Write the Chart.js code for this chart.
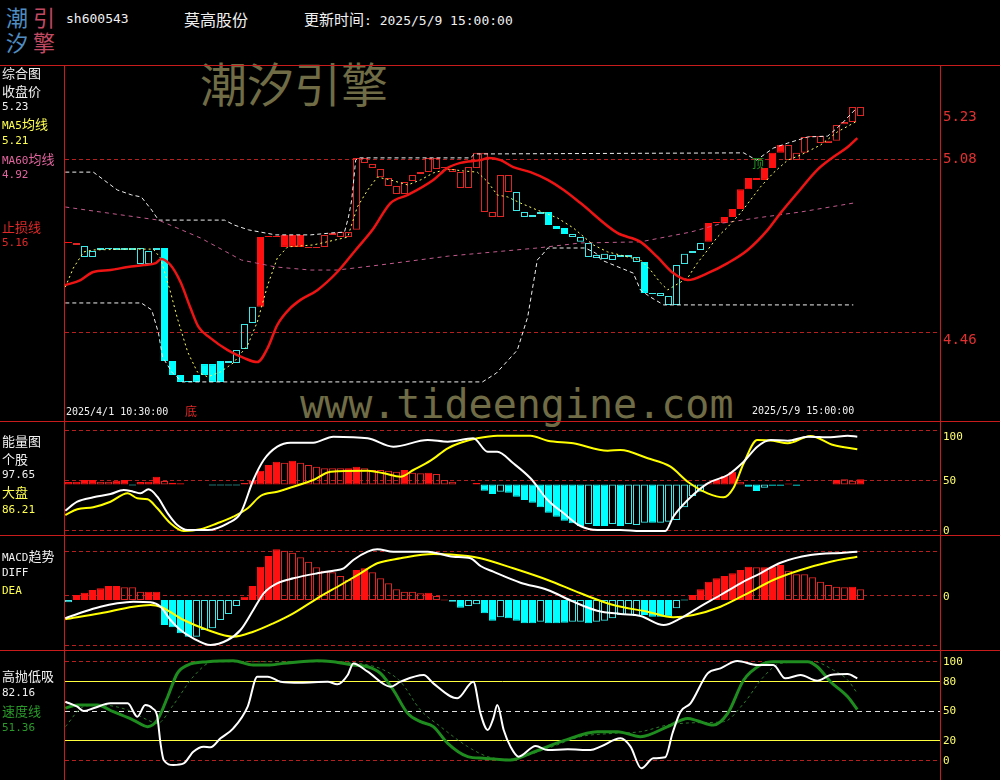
<!DOCTYPE html>
<html>
<head>
<meta charset="utf-8">
<script src="https://cdn.jsdelivr.net/npm/chart.js@4.4.1/dist/chart.umd.min.js"></script>
<style>
  body { margin: 0; background: #000; width: 1000px; height: 780px; overflow: hidden; position: relative;
         font-family: "DejaVu Sans Mono", "Noto Sans CJK SC", monospace; color: #f0f0f0; }
  canvas { position: absolute; left: 0; z-index: 2; }
  .t { position: absolute; white-space: nowrap; line-height: 16px; height: 16px; z-index: 3; }
  .cn { font-family: "Noto Sans CJK SC", sans-serif; font-size: 13px; }
  .num { font-size: 11px; }
  .wm { position: absolute; white-space: nowrap; color: #6f6c46; z-index: 1; }
  .fr { position: absolute; background: #c81c1c; z-index: 4; }
</style>
</head>
<body>

<!-- header -->
<div class="t" style="left:6px;top:4px;line-height:24px;height:24px;font-family:'Noto Sans CJK SC';font-size:22px;color:#4f8cc0">潮</div>
<div class="t" style="left:33px;top:4px;line-height:24px;height:24px;font-family:'Noto Sans CJK SC';font-size:22px;color:#c24a62">引</div>
<div class="t" style="left:6px;top:29px;line-height:24px;height:24px;font-family:'Noto Sans CJK SC';font-size:22px;color:#4f8cc0">汐</div>
<div class="t" style="left:33px;top:29px;line-height:24px;height:24px;font-family:'Noto Sans CJK SC';font-size:22px;color:#c24a62">擎</div>
<div class="t" style="left:66px;top:11px;font-size:13px">sh600543</div>
<div class="t" style="left:184px;top:11px;font-family:'Noto Sans CJK SC';font-size:16px">莫高股份</div>
<div class="t" style="left:304px;top:11px"><span style="font-family:'Noto Sans CJK SC';font-size:15px">更新时间</span><span style="font-size:13px">: 2025/5/9 15:00:00</span></div>

<!-- watermarks -->
<div class="wm" style="left:200px;top:58px;line-height:47px;font-family:'Noto Sans CJK SC';font-size:47px">潮汐引擎</div>
<div class="wm" style="left:300px;top:384px;line-height:40px;font-family:'DejaVu Sans Mono';font-size:40px">www.tideengine.com</div>

<!-- left labels: main panel -->
<div class="t cn" style="left:2px;top:65px">综合图</div>
<div class="t cn" style="left:2px;top:83px">收盘价</div>
<div class="t num" style="left:2px;top:99px">5.23</div>
<div class="t" style="left:2px;top:116px;color:#ffff50"><span class="num">MA5</span><span class="cn">均线</span></div>
<div class="t num" style="left:2px;top:133px;color:#ffff50">5.21</div>
<div class="t" style="left:2px;top:151px;color:#e0649e"><span class="num">MA60</span><span class="cn">均线</span></div>
<div class="t num" style="left:2px;top:167px;color:#e0649e">4.92</div>
<div class="t cn" style="left:2px;top:219px;color:#e02828">止损线</div>
<div class="t num" style="left:2px;top:235px;color:#e02828">5.16</div>
<div class="t" style="left:66px;top:404px;font-size:10px">2025/4/1 10:30:00</div>
<div class="t cn" style="left:185px;top:403px;font-size:12px;color:#e02828">底</div>
<div class="t" style="left:752px;top:403px;font-size:10px">2025/5/9 15:00:00</div>
<div class="t cn" style="left:752px;top:155px;font-size:12px;color:#1f9a1f">顶</div>

<!-- left labels: energy -->
<div class="t cn" style="left:2px;top:433px">能量图</div>
<div class="t cn" style="left:2px;top:451px">个股</div>
<div class="t num" style="left:2px;top:467px">97.65</div>
<div class="t cn" style="left:2px;top:484px;color:#ffff50">大盘</div>
<div class="t num" style="left:2px;top:502px;color:#ffff50">86.21</div>

<!-- left labels: macd -->
<div class="t" style="left:2px;top:548px"><span class="num">MACD</span><span class="cn">趋势</span></div>
<div class="t num" style="left:2px;top:565px">DIFF</div>
<div class="t num" style="left:2px;top:583px;color:#ffff50">DEA</div>

<!-- left labels: high/low -->
<div class="t cn" style="left:2px;top:668px">高抛低吸</div>
<div class="t num" style="left:2px;top:685px">82.16</div>
<div class="t cn" style="left:2px;top:703px;color:#2a9a2a">速度线</div>
<div class="t num" style="left:2px;top:720px;color:#2a9a2a">51.36</div>

<canvas id="cMain" width="1000" height="356" style="top:65px"></canvas>
<canvas id="cEnergy" width="1000" height="114" style="top:421px"></canvas>
<canvas id="cMacd" width="1000" height="115" style="top:535px"></canvas>
<canvas id="cSwing" width="1000" height="130" style="top:650px"></canvas>

<!-- frame -->
<div class="fr" style="left:0;top:65px;width:1000px;height:1px"></div>
<div class="fr" style="left:0;top:421px;width:1000px;height:1px"></div>
<div class="fr" style="left:0;top:535px;width:1000px;height:1px"></div>
<div class="fr" style="left:0;top:650px;width:1000px;height:1px"></div>
<div class="fr" style="left:64px;top:65px;width:1px;height:715px"></div>
<div class="fr" style="left:940px;top:65px;width:1px;height:715px"></div>

<script>
// ---------- data: 100 hourly bars, 2025/4/1 10:30 .. 2025/5/9 15:00 ----------
// candle bodies (price), kind: R red filled, r red hollow, C cyan filled, c cyan hollow
const candleHigh = [
  4.779, 4.779, 4.768, 4.750, 4.761, 4.761, 4.761, 4.761, 4.761, 4.761,
  4.750, 4.761, 4.761, 4.356, 4.306, 4.281, 4.306, 4.345, 4.345, 4.356,
  4.356, 4.395, 4.489, 4.550, 4.800, 4.800, 4.800, 4.808, 4.808, 4.808,
  4.761, 4.761, 4.808, 4.815, 4.818, 4.818, 5.084, 5.084, 5.062, 5.044,
  5.012, 4.983, 4.998, 5.023, 5.033, 5.084, 5.084, 5.048, 5.044, 5.033,
  5.051, 5.102, 5.102, 4.890, 5.023, 5.023, 4.962, 4.890, 4.879, 4.890,
  4.890, 4.840, 4.833, 4.811, 4.800, 4.779, 4.736, 4.740, 4.736, 4.736,
  4.736, 4.729, 4.711, 4.600, 4.600, 4.589, 4.700, 4.740, 4.750, 4.779,
  4.851, 4.851, 4.872, 4.901, 4.972, 5.012, 5.012, 5.048, 5.102, 5.130,
  5.130, 5.102, 5.159, 5.159, 5.162, 5.145, 5.202, 5.213, 5.266, 5.266
];
const candleLow = [
  4.779, 4.772, 4.729, 4.729, 4.754, 4.757, 4.754, 4.754, 4.754, 4.704,
  4.704, 4.754, 4.356, 4.306, 4.281, 4.281, 4.281, 4.306, 4.281, 4.281,
  4.349, 4.349, 4.399, 4.492, 4.550, 4.800, 4.800, 4.765, 4.765, 4.765,
  4.761, 4.761, 4.765, 4.808, 4.800, 4.800, 4.826, 5.066, 5.048, 5.015,
  4.983, 4.955, 4.955, 5.001, 5.026, 5.033, 5.044, 5.048, 5.033, 4.976,
  4.976, 5.048, 4.890, 4.872, 4.872, 4.962, 4.894, 4.872, 4.872, 4.883,
  4.843, 4.829, 4.811, 4.800, 4.783, 4.729, 4.725, 4.722, 4.718, 4.729,
  4.729, 4.711, 4.600, 4.596, 4.589, 4.557, 4.557, 4.704, 4.743, 4.754,
  4.783, 4.851, 4.851, 4.872, 4.901, 4.972, 5.005, 5.005, 5.048, 5.102,
  5.076, 5.076, 5.102, 5.159, 5.137, 5.137, 5.145, 5.205, 5.213, 5.234
];
const candleKind = (
  "Rrcccccccc" + "ccCCCCCCCC" + "ccccRRRRRR" + "rrrrrrrrrr" + "rrrrrrrrrr" +
  "rrrrrrcccc" + "CCCccccccc" + "ccCccccccc" + "RRRRRRRRRR" + "rrrrrrrrrr"
).split("");

// main panel lines: [bar position, price]
const trendLine = [[-0.4,4.628],[1.5,4.646],[3.1,4.675],[5.25,4.682],[7.4,4.693],[9.4,4.700],[10.9,4.707],[11.6,4.722],
  [12.75,4.700],[14,4.639],[15.25,4.546],[16.25,4.478],[17.75,4.438],[19.9,4.395],[21.9,4.367],[23.6,4.352],[24.9,4.403],
  [26.1,4.485],[27.75,4.546],[29,4.575],[31.1,4.610],[33.6,4.675],[35.9,4.754],[38,4.826],[40.25,4.922],[42.4,4.951],
  [45.6,5.005],[47.4,5.048],[49,5.066],[51.5,5.076],[52.5,5.084],[54,5.076],[55.6,5.051],[57.75,5.033],[59.9,5.005],
  [61.9,4.969],[64,4.922],[68.6,4.815],[71.5,4.783],[73.6,4.729],[75.6,4.671],[77.4,4.646],[79.9,4.671],[82.4,4.707],
  [84.9,4.754],[87.4,4.826],[89,4.886],[91.1,4.958],[93.6,5.041],[95.6,5.087],[97.4,5.123],[98.6,5.155]];
const ma5Line = [[-0.4,4.621],[0.6,4.689],[1.9,4.747],[3.1,4.754],[7.4,4.757],[10.6,4.757],[11.5,4.725],[12.75,4.603],
  [13.6,4.510],[14.9,4.388],[16.1,4.317],[17.4,4.299],[19,4.317],[20.6,4.349],[22.4,4.413],[23.6,4.496],[24.9,4.628],
  [26.1,4.725],[27.4,4.765],[30.6,4.772],[34.9,4.800],[36.1,4.908],[37.4,4.969],[38.6,5.015],[40.25,5.005],[42.4,4.987],
  [44,5.005],[45.6,5.030],[47.4,5.044],[49.4,5.037],[51.1,5.033],[52.4,4.998],[53.6,4.951],[54.9,4.944],[56.5,4.922],
  [58.6,4.897],[61.1,4.869],[63.1,4.833],[65.6,4.772],[67.4,4.747],[69.9,4.729],[71.5,4.718],[72.75,4.682],[74,4.636],
  [74.9,4.611],[75.9,4.628],[77.4,4.654],[78.6,4.707],[79.9,4.754],[81.1,4.800],[82.4,4.836],[84,4.886],[85.25,4.933],
  [86.5,4.980],[88.1,5.030],[89.9,5.076],[91.5,5.094],[94,5.130],[96.1,5.177],[98.4,5.213]];
const ma60Line = [[-0.4,4.908],[4,4.890],[11.25,4.861],[16.5,4.797],[21.6,4.718],[25.9,4.693],[30.25,4.682],[33.6,4.682],
  [38.9,4.700],[47.5,4.732],[58.6,4.761],[64,4.779],[71.5,4.783],[77.75,4.818],[81.9,4.851],[86.1,4.869],[91.5,4.890],[98.1,4.922]];
const upperBand = [[-0.4,5.033],[3.1,5.033],[6.1,4.969],[7.9,4.951],[9.1,4.944],[10.4,4.897],[11.25,4.861],[19.5,4.861],
  [20.75,4.843],[22.5,4.826],[25.9,4.808],[30.25,4.808],[32.9,4.815],[34.5,4.818],[35,4.872],[35.4,4.933],[35.9,5.076],
  [36.25,5.084],[50.25,5.084],[50.75,5.098],[84.4,5.102],[85.5,5.084],[86,5.076],[88.1,5.119],[89.9,5.137],[92.4,5.159],
  [94.9,5.162],[96.5,5.202],[98.4,5.259]];
const lowerBand = [[-0.4,4.564],[9.1,4.564],[10.4,4.539],[11.25,4.456],[11.75,4.370],[13,4.313],[14.25,4.281],[51.75,4.281],
  [53.5,4.313],[56.1,4.395],[57.4,4.514],[58.6,4.718],[59.4,4.743],[59.9,4.761],[64.6,4.761],[65.9,4.743],[66.6,4.718],
  [70.6,4.671],[71.5,4.610],[72.75,4.585],[74.4,4.557],[98.1,4.557]];
const mainGrid = [5.08, 4.46];
const mainTicks = ["5.23", "5.08", "4.46"];

// energy panel (0..100), bars grow from the base level
const energyBase = 45.5;
const energyBar = [
  48, 48.3, 50, 50, 48.3, 48.3, 49.3, 50, 44.5, 48,
  48.3, 53.3, 49, 47.3, 46.7, null, null, null, 44.5, 44.5,
  44.5, 44.5, 47, 49, 59.3, 65, 68.3, 67.3, 69.3, 67.3,
  65, 63.3, 61.7, 61.7, 61.7, 61.7, 63.3, 61.7, 60, 60,
  59.3, 58.3, 60, 57.3, 56.7, 57.3, 56, 50, 48.3, null,
  null, 47, 39.3, 36, 38.3, 37.3, 33.3, 30, 27.3, 22.7,
  17.3, 13.3, 9.3, 6.7, 4, 6, 4, 4, 6, 4,
  6, 5, 7.3, 7.3, 7.3, 8.3, 10, 22.7, 34, 38.3,
  46.7, 50, 54, 58.3, 48.3, 43.3, 39, 42.3, 44.3, 44.3,
  46.5, 44.3, null, null, null, null, 50, 50.7, 49.3, 50.7
];
const energyKind = (
  "RRRRrrRRcR" + "RRrRR---cc" + "ccrRRRRrRr" + "rrrrrRRrrr" + "rrRrrRrrr-" +
  "-RCCcCCCCC" + "CCCCCcCCcC" + "cccCcccccc" + "RRRRrCCcCC" + "RC----RrrR"
).split("");
const stockLine = [[-0.4,19.3],[1.1,28.3],[3.1,32.7],[5.25,36],[6.9,40],[8.1,38.3],[9,36.7],[10,40.7],[11.1,33.3],
  [12.4,16.7],[13.6,5],[14.9,0],[17.4,0],[19.9,6.7],[21.5,16.7],[23.1,50],[24.4,70],[26.1,83.3],[27.75,87.3],[30.6,87.3],
  [33.1,93.3],[37.4,91.7],[40.6,83.3],[44.9,90],[47.4,88.3],[50.6,91.7],[52.4,78.3],[53.6,78.3],[55.6,66.7],[57.75,51.7],
  [59.9,30],[61.9,16.7],[64,4],[66.1,0],[69,0],[71.5,-1],[74.6,-1],[75.6,13.3],[77.4,30],[79.9,46.7],[82.4,55],
  [84.4,68.3],[86.1,83.3],[87.75,90],[89.9,89.3],[92.4,93.3],[95.25,92.7],[97.4,94.3],[98.6,93.3]];
const marketLine = [[-0.4,15],[1.1,20.7],[3.1,22.7],[5.25,28.3],[7.4,36.7],[8.6,31.7],[9.9,30.7],[11.1,21.7],[12.75,6.7],
  [14.4,-1],[16.5,0.7],[18.6,6.7],[20.6,13.3],[22.4,21.7],[24,34],[26.1,38.3],[28.1,43.3],[30.6,50],[32.75,58.3],
  [37.4,59.3],[39.4,56.7],[41.5,53.3],[43.1,60],[45.25,69.3],[47.4,81.7],[49,87.3],[51.1,91.7],[53.6,94.3],[57.75,94.3],
  [59.9,89.3],[63.1,86.7],[67.4,79.3],[69,80],[72.4,71.7],[75.25,63.3],[77.4,48.3],[79.9,36.7],[81.9,32.7],[83.1,41.7],
  [84.4,66.7],[86.1,90],[88.1,89.3],[89.9,86.7],[92.75,94],[95.6,85],[98.6,80.7]];
const energyGrid = [100, 50, 0];
const energyTicks = ["100", "50", "0"];

// MACD panel
const macdBar = [
  -0.0023, 0.0050, 0.0073, 0.0100, 0.0117, 0.0140, 0.0140, 0.0127, 0.0127, 0.0083,
  0.0083, 0.0083, -0.0250, -0.0273, -0.0333, -0.0367, -0.0367, -0.0300, -0.0283, -0.0200,
  -0.0140, -0.0060, 0.0033, 0.0140, 0.0333, 0.0440, 0.0507, 0.0493, 0.0473, 0.0427,
  0.0383, 0.0327, 0.0293, 0.0277, 0.0240, 0.0200, 0.0300, 0.0317, 0.0277, 0.0217,
  0.0167, 0.0107, 0.0083, 0.0083, 0.0067, 0.0073, 0.0040, 0.0007, -0.0017, -0.0077,
  -0.0060, -0.0043, -0.0133, -0.0207, -0.0173, -0.0183, -0.0207, -0.0233, -0.0233, -0.0217,
  -0.0233, -0.0233, -0.0227, -0.0217, -0.0217, -0.0233, -0.0217, -0.0207, -0.0183, -0.0150,
  -0.0150, -0.0160, -0.0150, -0.0167, -0.0167, -0.0167, -0.0083, -0.0007, 0.0050, 0.0107,
  0.0183, 0.0217, 0.0240, 0.0267, 0.0300, 0.0333, 0.0327, 0.0327, 0.0333, 0.0350,
  0.0293, 0.0257, 0.0257, 0.0227, 0.0183, 0.0150, 0.0133, 0.0127, 0.0133, 0.0107
];
const macdKind = (
  "cRRRRRRrrr" + "RRCCCCcccc" + "ccRRRRRrrr" + "rrrrrrRRrr" + "rrrrrRrrcC" +
  "ccCCcCCCCc" + "CCCccCcccc" + "ccCCCCccRR" + "RRRRRRrRRR" + "rrrrrrrrRr"
).split("");
const diffLine = [[-0.4,-0.0183],[1.9,-0.0117],[4,-0.0067],[6.1,-0.0033],[8.1,-0.0017],[10.25,-0.0023],[11.5,-0.0067],
  [12.75,-0.02],[14,-0.03],[15.6,-0.0383],[17.75,-0.045],[19.9,-0.04],[21.5,-0.03],[23.1,-0.01],[24.4,0.0067],[26.1,0.0167],
  [28.1,0.0217],[31.1,0.0267],[33.1,0.0293],[34.4,0.0317],[35.6,0.04],[37.4,0.0483],[38.6,0.0507],[40.6,0.0483],
  [44.9,0.0483],[48.1,0.0433],[50.25,0.0417],[51.5,0.034],[53.1,0.0283],[56.5,0.0173],[59.9,0.01],[63.1,-0.0017],
  [66.1,-0.0107],[69,-0.014],[71.5,-0.016],[74.4,-0.025],[76.5,-0.0183],[78.6,-0.0083],[81.5,0.005],[84,0.0167],
  [86.5,0.0267],[89,0.0373],[92.75,0.045],[96.9,0.0473],[98.6,0.0483]];
const deaLine = [[-0.4,-0.0193],[4,-0.0133],[8.1,-0.0067],[10.25,-0.005],[11.5,-0.0067],[14.4,-0.02],[17.4,-0.03],
  [20.6,-0.0367],[23.1,-0.0317],[25.6,-0.0233],[28.1,-0.0133],[31.1,0.0017],[34,0.015],[36.5,0.0267],[38.6,0.0367],
  [41.5,0.0417],[45.6,0.046],[49.9,0.044],[51.5,0.0417],[55.6,0.0317],[59.9,0.02],[64,0.0067],[68.1,-0.005],
  [72.4,-0.0117],[75.6,-0.0173],[78.1,-0.015],[81.5,-0.0067],[84.9,0.0067],[88.1,0.02],[91.5,0.03],[95.25,0.0383],[98.6,0.0433]];
const macdGrid = [0.049, 0.005, -0.045];

// high/low swing panel (0..100)
const swingLine = [[-0.4,58.9],[1.1,53.8],[1.9,49.5],[3.1,52.2],[5.25,57.3],[7.4,57.3],[8.6,43.8],[9.6,55.6],[10.5,52.2],
  [11.1,43.8],[11.5,16.8],[11.9,0],[13.1,-5],[14.4,-3.4],[15.6,8.4],[16.9,13.5],[17.75,12.8],[19,21.9],[20.6,32],
  [22.4,53.9],[23.6,84.2],[24.9,84.2],[26.5,79.1],[29,78.1],[32.4,79.1],[33.6,76.4],[34.9,85.8],[35.6,97.6],[37.4,89.2],
  [40.25,74],[41.5,79.1],[44.4,85.8],[45.6,77.4],[48.6,62.3],[50.6,79.1],[51.5,47],[52.4,30.3],[53.1,42],[53.6,55.6],
  [54.4,30.3],[55.25,13.5],[56.25,3.4],[58.4,14.1],[59.9,10.1],[62.4,10.8],[65.25,10.1],[66.5,13.5],[69,21.9],[70.25,13.5],
  [71.6,-8.4],[73.1,1.7],[74.6,2.7],[75.5,27],[76.5,48.8],[77.75,57.2],[79.9,87.5],[81.5,92.6],[83.6,100],[86.1,96],
  [88.1,96],[89.6,82.5],[91.5,85.8],[93.6,80.1],[95.25,85.8],[97.4,86.9],[98.6,82.5]];
const speedLine = [[-0.4,52.2],[1.1,55.6],[3.6,55.6],[5.6,48.8],[8.1,40.4],[9.9,33.7],[11.1,40.4],[12.4,63.9],[13.6,87.5],
  [14.9,95.9],[17.4,99.3],[20.6,100.3],[23.1,95.9],[24.9,95.9],[26.9,97.6],[31.1,100.3],[33.1,99.3],[35.6,95.9],[37.4,94.2],
  [39,87.5],[40.6,70.7],[42.4,47.1],[44,38.7],[45.6,33.7],[47.4,16.8],[49.9,3.4],[51.9,1.7],[53.5,0.7],[55.25,0],
  [57.75,6.7],[61.9,19.5],[66.1,28.6],[68.6,28.6],[71.5,23.6],[74.9,33.7],[77.4,42],[78.6,39.7],[80.6,35.3],[82.4,47.1],
  [84.4,80.8],[86.5,96],[88.1,99.3],[92.4,99.3],[93.6,94.2],[95.25,79.1],[97.4,63.9],[98.6,51]];
const speedSlow = [[-0.4,33.7],[1.9,53.9],[4,55.6],[7.4,50.5],[9.9,40.4],[11.1,37],[13.1,55.6],[15.6,84.2],[18.1,99.3],
  [20.6,99.3],[33.1,99.3],[37.4,96],[39.4,90.9],[41.5,79.1],[44,50.5],[46.5,33.7],[49.9,13.5],[52.4,3.4],[54.9,0.7],
  [59.9,11.8],[64,23.6],[68.1,26.9],[71.5,28.6],[74.9,35.3],[78.6,37.7],[81.9,38.7],[84.4,57.2],[86.9,84.2],[89,97.6],
  [93.1,99.3],[95.6,90.9],[97.4,80.8],[98.6,67.3]];
const swingTicks = [100, 80, 50, 20, 0];

// ---------- drawing ----------
const X_MIN = -0.4375, X_MAX = 108.9375;   // 8px per bar, first bar at x=68.5
const KIND_STYLE = {
  R: { fill: "#ff1010", edge: "#ff1010" },
  r: { fill: "rgba(0,0,0,0)", edge: "#e02424" },
  C: { fill: "#00ffff", edge: "#00ffff" },
  c: { fill: "rgba(0,0,0,0)", edge: "#3ce8e8" },
};
const GRID_RED = "#b42020";

function line(points, color, width, dash, smooth) {
  return {
    type: "line", data: points.map(([x, y]) => ({ x, y })),
    borderColor: color, borderWidth: width, borderDash: dash || [],
    pointRadius: 0, fill: false, tension: 0,
    cubicInterpolationMode: smooth ? "monotone" : "default", order: 1,
  };
}

// one bar dataset per kind, all overlaid on the same x positions
function barSets(points) {
  return Object.keys(KIND_STYLE).map(k => ({
    type: "bar", data: points.filter(p => p.k === k),
    backgroundColor: KIND_STYLE[k].fill, borderColor: KIND_STYLE[k].edge,
    hoverBackgroundColor: KIND_STYLE[k].fill, hoverBorderColor: KIND_STYLE[k].edge,
    borderWidth: 1, borderSkipped: false, barThickness: 7, minBarLength: 1,
    inflateAmount: 0, grouped: false, order: 10,
  }));
}

// horizontal level lines + right side labels
function deco(levels, labels, font, color) {
  return {
    id: "deco",
    beforeDatasetsDraw(chart) {
      const { ctx, chartArea: a, scales: { y } } = chart;
      ctx.save();
      levels.forEach(l => {
        const py = Math.round(y.getPixelForValue(l.v)) + 0.5;
        ctx.strokeStyle = l.c; ctx.lineWidth = 1; ctx.setLineDash(l.d || []);
        ctx.beginPath(); ctx.moveTo(a.left, py); ctx.lineTo(a.right, py); ctx.stroke();
      });
      ctx.restore();
    },
    afterDraw(chart) {
      const { ctx, chartArea: a, scales: { y } } = chart;
      ctx.save();
      ctx.font = font; ctx.fillStyle = color;
      ctx.textBaseline = "middle"; ctx.textAlign = "left";
      labels.forEach(l => ctx.fillText(l.t, a.right + 3, y.getPixelForValue(l.v) + (l.dy || 0)));
      ctx.restore();
    },
  };
}

function makeChart(id, yMin, yMax, datasets, plugin) {
  return new Chart(document.getElementById(id), {
    type: "bar",
    data: { datasets },
    options: {
      responsive: false, animation: false, events: [],
      layout: { padding: { left: 65, right: 60, top: 0, bottom: 0 } },
      plugins: { legend: { display: false }, tooltip: { enabled: false }, colors: { enabled: false } },
      scales: {
        x: { type: "linear", min: X_MIN, max: X_MAX, offset: false, display: false },
        y: { type: "linear", min: yMin, max: yMax, display: false },
      },
    },
    plugins: [plugin],
  });
}

// main panel
const candlePts = candleHigh.map((h, i) => ({ x: i, y: [candleLow[i], h], k: candleKind[i] }));
makeChart("cMain", 4.14093, 5.41692, [
  line(trendLine, "#ee1414", 2.5, null, true),
  line(ma5Line, "#ffff60", 1, [2, 3], false),
  line(ma60Line, "#c25a8c", 1, [4, 4], false),
  line(upperBand, "#f0f0f0", 1, [4, 3], false),
  line(lowerBand, "#f0f0f0", 1, [4, 3], false),
  ...barSets(candlePts),
], deco(
  mainGrid.map(v => ({ v, c: GRID_RED, d: [4, 3] })),
  mainTicks.map(t => ({ t, v: parseFloat(t), dy: t === "4.46" ? 8 : 0 })),
  "14px 'DejaVu Sans Mono'", "#e03030"
));

// energy panel
const energyPts = [];
energyBar.forEach((v, i) => { if (v !== null) energyPts.push({ x: i, y: [energyBase, v], k: energyKind[i] }); });
makeChart("cEnergy", -5, 109, [
  line(stockLine, "#ffffff", 2, null, true),
  line(marketLine, "#ffff00", 2, null, true),
  ...barSets(energyPts),
], deco(
  energyGrid.map(v => ({ v, c: GRID_RED, d: [4, 3] })),
  energyTicks.map(t => ({ t, v: parseFloat(t), dy: t === "100" ? 7 : 1 })),
  "11px 'DejaVu Sans Mono'", "#ffff70"
));

// MACD panel
const macdPts = macdBar.map((v, i) => ({ x: i, y: [0, v], k: macdKind[i] }));
makeChart("cMacd", -0.050, 0.065, [
  line(diffLine, "#ffffff", 2, null, true),
  line(deaLine, "#ffff00", 2, null, true),
  ...barSets(macdPts),
], deco(
  macdGrid.map(v => ({ v, c: GRID_RED, d: [4, 3] })),
  [{ t: "0", v: 0.005, dy: 2 }],
  "11px 'DejaVu Sans Mono'", "#ffff70"
));

// high/low swing panel
makeChart("cSwing", -20.2, 111.11, [
  line(swingLine, "#ffffff", 2, null, true),
  line(speedLine, "#1e8c1e", 3, null, true),
  line(speedSlow, "#2a7a2a", 1, [3, 3], true),
], deco(
  [
    { v: 100, c: GRID_RED, d: [4, 3] },
    { v: 80, c: "#ffff40" },
    { v: 50, c: "#e0e0e0", d: [5, 4] },
    { v: 20, c: "#ffff40" },
    { v: 0, c: GRID_RED, d: [4, 3] },
  ],
  swingTicks.map(v => ({ t: String(v), v, dy: 1 })),
  "11px 'DejaVu Sans Mono'", "#ffff70"
));
</script>
</body>
</html>
